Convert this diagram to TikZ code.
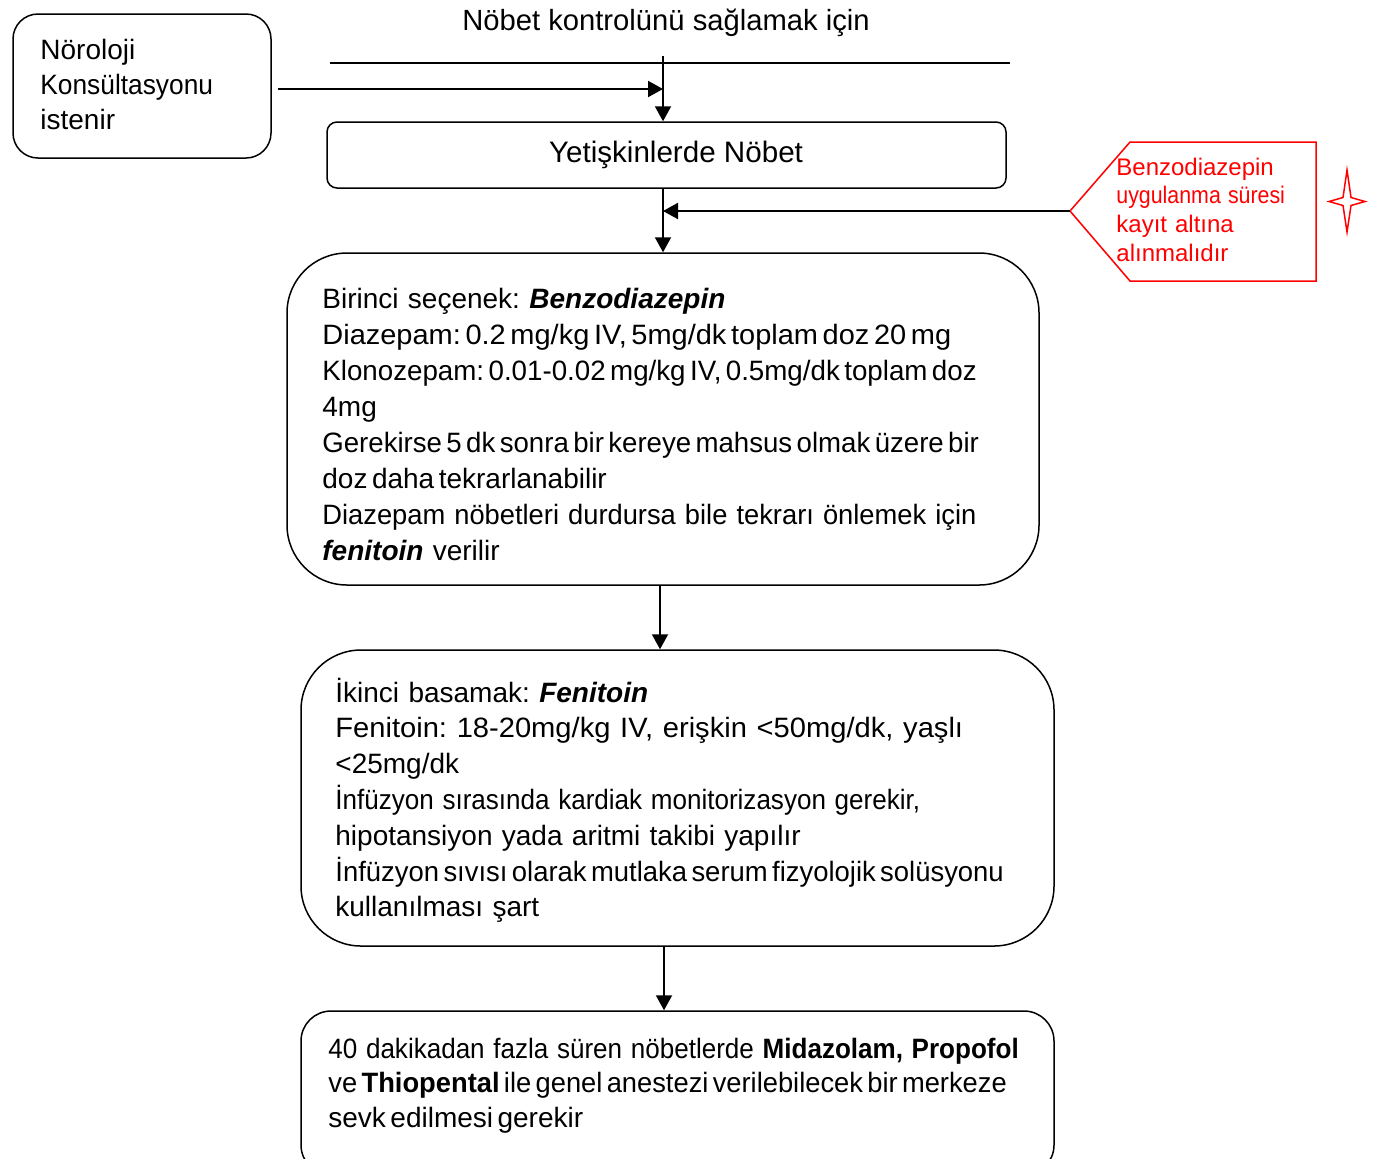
\documentclass[tikz,border=0pt]{standalone}
\usepackage{fontspec}
\setmainfont{Liberation Sans}
\usetikzlibrary{arrows.meta,calc}
\newcommand\tightsp[1]{{\spaceskip=0.16em plus 0.05em\relax #1}}
\newcommand\narrowln[2]{\scalebox{#1}[1]{#2}}
\begin{document}
\frenchspacing
\begin{tikzpicture}[x=0.5pt,y=-0.5pt,
  box/.style={draw, line width=0.75pt, inner sep=0pt, fill=white},
  arr/.style={line width=1pt, -{Triangle[length=7.5pt,width=8pt]}},
  plainline/.style={line width=0.75pt},
  body/.style={font=\fontsize{14}{18}\selectfont, inner sep=0pt, anchor=base west, align=left, text width=360pt},
  redtxt/.style={font=\fontsize{12}{14.35}\selectfont, text=red, inner sep=0pt, anchor=base west, align=left, text width=100pt},
]
\useasboundingbox (0,0) rectangle (1384,1158);
\clip (0,0) rectangle (1384,1158);

% boxes
\node[box, rounded corners=12.5pt, minimum width=129pt, minimum height=72pt] (neu) at (142,86) {};
\node[box, rounded corners=5pt, minimum width=339.5pt, minimum height=33pt] (yet) at (666.5,155) {};
\node[box, rounded corners=30pt, minimum width=376pt, minimum height=166pt] (b1) at (663,419) {};
\node[box, rounded corners=30pt, minimum width=376.5pt, minimum height=148pt] (b2) at (677.5,798) {};
\node[box, rounded corners=15pt, minimum width=376.5pt, minimum height=82pt] (b3) at (677.5,1093) {};

% texts
\node[font=\fontsize{14.6}{18}\selectfont, inner sep=0pt, anchor=base] (top) at (666,30) {Nöbet kontrolünü sağlamak için};
\node[font=\fontsize{14}{17.5}\selectfont, inner sep=0pt, anchor=base west, align=left, text width=110pt] (neut) at (40,59) {Nöroloji\\\narrowln{0.94}{Konsültasyonu}\\istenir};
\node[font=\fontsize{14.8}{18}\selectfont, inner sep=0pt, anchor=base] (yett) at (676,162) {Yetişkinlerde Nöbet};

\node[body] (t1) at (322,308) {Birinci seçenek: \textbf{\textit{Benzodiazepin}}\\
\narrowln{1.035}{\tightsp{Diazepam: 0.2 mg/kg IV, 5mg/dk toplam doz 20 mg}}\\
\narrowln{0.99}{\tightsp{Klonozepam: 0.01-0.02 mg/kg IV, 0.5mg/dk toplam doz}}\\
4mg\\
\narrowln{0.986}{\tightsp{Gerekirse 5 dk sonra bir kereye mahsus olmak üzere bir}}\\
\tightsp{doz daha tekrarlanabilir}\\
\narrowln{0.975}{Diazepam nöbetleri durdursa bile tekrarı önlemek için}\\
\textbf{\textit{fenitoin}} verilir};

\node[body, font=\fontsize{14}{17.9}\selectfont] (t2) at (335,702) {İkinci basamak: \textbf{\textit{Fenitoin}}\\
\narrowln{1.04}{Fenitoin: 18-20mg/kg IV, erişkin <50mg/dk, yaşlı}\\
<25mg/dk\\
\narrowln{0.93}{İnfüzyon sırasında kardiak monitorizasyon gerekir,}\\
hipotansiyon yada aritmi takibi yapılır\\
\narrowln{0.98}{\tightsp{İnfüzyon sıvısı olarak mutlaka serum fizyolojik solüsyonu}}\\
kullanılması şart};

\node[body, font=\fontsize{14}{17.25}\selectfont] (t3) at (328,1058) {\narrowln{0.93}{40 dakikadan fazla süren nöbetlerde \textbf{Midazolam, Propofol}}\\
\narrowln{0.975}{\tightsp{ve \textbf{Thiopental} ile genel anestezi verilebilecek bir merkeze}}\\
\tightsp{sevk edilmesi gerekir}};

% red callout
\draw[red, line width=0.75pt] (1070,211) coordinate (ptip) -- (1130,142) -- (1316,142) -- (1316,281) -- (1130,281) -- cycle;
\node[redtxt] (rt) at (1116,175) {Benzodiazepin\\\narrowln{0.89}{uygulanma süresi}\\kayıt altına\\alınmalıdır};
\draw[red, line width=0.75pt] (1347,170) -- (1351,197.5) -- (1365,201.5) -- (1351,205.5) -- (1347,232) -- (1343,205.5) -- (1329,201.5) -- (1343,197.5) -- cycle;

% connectors
\coordinate (hl) at (330,63);
\coordinate (hr) at (1010,63);
\draw[plainline] (hl) -- (hr);
\coordinate (v0) at (663,56);
\coordinate (j1) at (663,89);
\draw[arr] (v0) -- (v0 |- yet.north);
\draw[arr] ($(neu.east)+(6,3)$) -- (j1);
\draw[arr] (yet.south -| v0) -- (b1.north -| v0);
\draw[arr] (ptip) -- (ptip -| v0);
\coordinate (c1) at ($(b1.south)+(-3,0)$);
\draw[arr] (c1) -- (c1 |- b2.north);
\coordinate (c2) at ($(b2.south)+(-13.5,0)$);
\draw[arr] (c2) -- (c2 |- b3.north);
\end{tikzpicture}
\end{document}
